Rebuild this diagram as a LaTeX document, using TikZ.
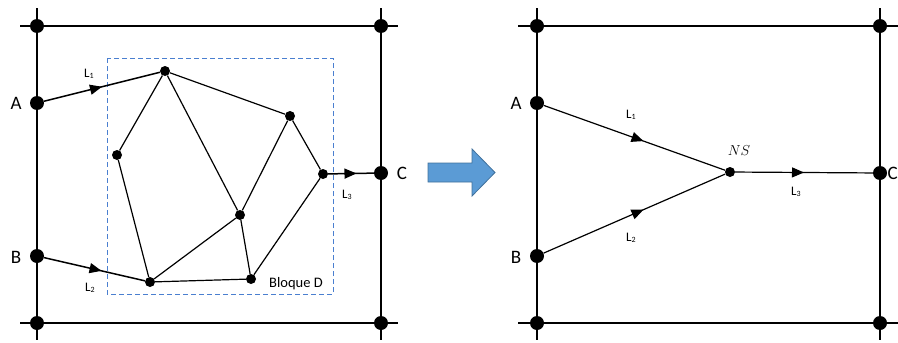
\documentclass[tikz,border=0pt]{standalone}
\usepackage{fontspec}
\setmainfont{Carlito}
\usetikzlibrary{arrows.meta,decorations.markings}
\definecolor{arrowblue}{HTML}{5B9BD5}
\definecolor{arrowedge}{HTML}{41719C}
\definecolor{boxblue}{HTML}{4A7FD0}
\tikzset{
  frame/.style={line width=2pt},
  edge/.style={line width=1.2pt},
  bigdot/.style={circle,fill,inner sep=0pt,minimum size=14pt},
  smalldot/.style={circle,fill,inner sep=0pt,minimum size=10pt},
  midarrow/.style={postaction={decorate},
    decoration={markings,mark=at position #1 with {\arrow{Triangle[length=12pt,width=10pt]}}}},
  midarrow/.default=0.55,
  lbl/.style={font=\fontsize{19}{19}\selectfont},
  sublbl/.style={font=\fontsize{13}{13}\selectfont},
}
\newcommand{\Lsub}[1]{L\raisebox{-0.5pt}{\fontsize{8}{8}\selectfont #1}}
\begin{document}
\begin{tikzpicture}[x=1pt,y=-1pt]
    \useasboundingbox (0,0) rectangle (898,343);

    % left: bloque D with its inner net
    \begin{scope}
        \draw[frame] (20,26) -- (398,26);
        \draw[frame] (20,323) -- (398,323);
        \draw[frame] (37,8) -- (37,340);
        \draw[frame] (381,8) -- (381,340);
        \node[bigdot] (tl) at (37,26) {};
        \node[bigdot] (tr) at (381,26) {};
        \node[bigdot] (bl) at (37,323) {};
        \node[bigdot] (br) at (381,323) {};
        \node[bigdot] (A) at (37,103) {};
        \node[bigdot] (B) at (37,256) {};
        \node[bigdot] (C) at (381,173) {};
        \node[lbl] (Alab) at (16,103) {A};
        \node[lbl] (Blab) at (16,257) {B};
        \node[lbl] (Clab) at (402,173) {C};

        % recuadro del bloque
        \draw[boxblue, line width=1pt, dash pattern=on 5pt off 3pt] (107,58) rectangle (333,294);
        \node[font=\fontsize{14.5}{14.5}\selectfont] (bloque) at (296,284) {Bloque D};

        \node[smalldot] (n1) at (165,71) {};
        \node[smalldot] (n2) at (290,116) {};
        \node[smalldot] (n3) at (323,174) {};
        \node[smalldot] (n4) at (117,155) {};
        \node[smalldot] (n5) at (240,215) {};
        \node[smalldot] (n6) at (150,282) {};
        \node[smalldot] (n7) at (251,279) {};

        \draw[edge] (n1) -- (n4);
        \draw[edge] (n1) -- (n5);
        \draw[edge] (n1) -- (n2);
        \draw[edge] (n2) -- (n5);
        \draw[edge] (n2) -- (n3);
        \draw[edge] (n3) -- (n7);
        \draw[edge] (n4) -- (n6);
        \draw[edge] (n6) -- (n5);
        \draw[edge] (n5) -- (n7);
        \draw[edge] (n6) -- (n7);

        % enlaces de entrada y salida
        \draw[edge, line width=1.5pt, midarrow=0.5] (A) -- (n1);
        \draw[edge, line width=1.5pt, midarrow=0.57] (B) -- (n6);
        \draw[edge, line width=1.5pt, midarrow=0.62] (n3) -- (C);
        \node[sublbl] (l1) at (89,74) {\Lsub{1}};
        \node[sublbl] (l2) at (90,288) {\Lsub{2}};
        \node[sublbl] (l3) at (347,195) {\Lsub{3}};
    \end{scope}

    % flecha de reduccion
    \draw[arrowedge, fill=arrowblue, line width=0.8pt]
        (428,163) -- (472,163) -- (472,149) -- (495,172.5) -- (472,196) -- (472,182) -- (428,182) -- cycle;

    % right: equivalent node NS
    \begin{scope}
        \draw[frame] (518,26) -- (910,26);
        \draw[frame] (518,323) -- (910,323);
        \draw[frame] (537,8) -- (537,340);
        \draw[frame] (880,8) -- (880,340);
        \node[bigdot] (rtl) at (537,26) {};
        \node[bigdot] (rtr) at (880,26) {};
        \node[bigdot] (rbl) at (537,323) {};
        \node[bigdot] (rbr) at (880,323) {};
        \node[bigdot] (rA) at (537,103) {};
        \node[bigdot] (rB) at (537,256) {};
        \node[bigdot] (rC) at (880,173) {};
        \node[lbl] (rAlab) at (516,103) {A};
        \node[lbl] (rBlab) at (516,257) {B};
        \node[lbl, anchor=east, inner sep=0pt] (rClab) at (898,173) {C};

        \node[smalldot] (NS) at (730,172) {};
        \node[font=\fontsize{15}{15}\selectfont] (NSlab) at (739,151) {$NS$};

        \draw[edge, midarrow=0.55] (rA) -- (NS);
        \draw[edge, midarrow=0.55] (rB) -- (NS);
        \draw[edge, midarrow=0.5] (NS) -- (rC);
        \node[sublbl] (rl1) at (631,115) {\Lsub{1}};
        \node[sublbl] (rl2) at (631,238) {\Lsub{2}};
        \node[sublbl] (rl3) at (796,192) {\Lsub{3}};
    \end{scope}
\end{tikzpicture}
\end{document}
